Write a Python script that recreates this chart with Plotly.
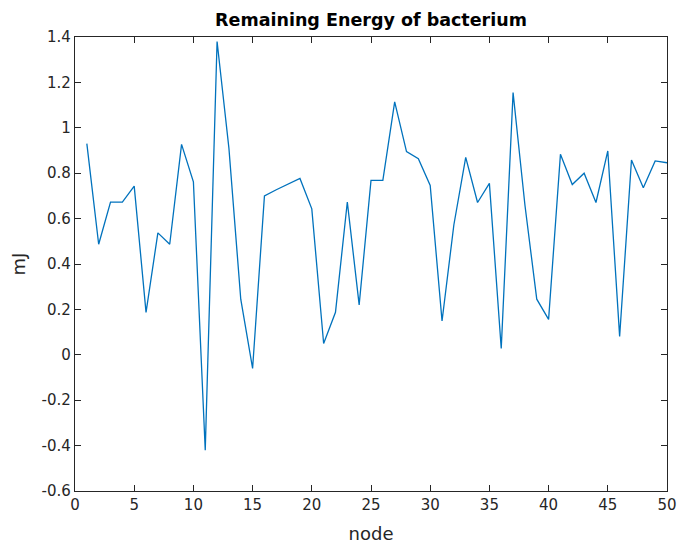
import plotly.graph_objects as go

nodes = list(range(1, 51))
energy = [0.93, 0.487, 0.673, 0.673, 0.743, 0.187, 0.537, 0.487, 0.927, 0.762,
          -0.42, 1.38, 0.91, 0.245, -0.06, 0.70, 0.727, 0.753, 0.777, 0.643,
          0.05, 0.187, 0.673, 0.22, 0.768, 0.768, 1.114, 0.895, 0.864, 0.746,
          0.149, 0.573, 0.87, 0.671, 0.755, 0.028, 1.155, 0.66, 0.245, 0.156,
          0.883, 0.75, 0.80, 0.671, 0.898, 0.081, 0.858, 0.736, 0.854, 0.846]

x_ticks = [0, 5, 10, 15, 20, 25, 30, 35, 40, 45, 50]
y_ticks = [-0.6, -0.4, -0.2, 0, 0.2, 0.4, 0.6, 0.8, 1, 1.2, 1.4]
y_ticktext = ["-0.6", "-0.4", "-0.2", "0", "0.2", "0.4", "0.6", "0.8", "1", "1.2", "1.4"]

FONT = "DejaVu Sans"

fig = go.Figure()
fig.add_trace(go.Scatter(x=nodes, y=energy, mode="lines",
                         line=dict(color="#0072BD", width=1.3)))

axis_common = dict(showline=True, linecolor="#262626", linewidth=1.4, mirror="ticks",
                   ticks="inside", ticklen=6, tickwidth=1.4, tickcolor="#262626",
                   showgrid=False, zeroline=False, automargin=False,
                   tickfont=dict(family=FONT, size=15, color="#262626"))

fig.update_layout(
    width=679, height=544,
    margin=dict(l=75, r=12, t=37, b=53),
    paper_bgcolor="white", plot_bgcolor="white",
    showlegend=False,
    title=dict(text="<b>Remaining Energy of bacterium</b>", x=0.5, xanchor="center",
               xref="paper", y=0.963, yanchor="middle",
               font=dict(family=FONT, size=17.5, color="black")),
    xaxis=dict(range=[0, 50], tickvals=x_ticks,
               title=dict(text="node", standoff=16,
                          font=dict(family=FONT, size=18, color="#262626")),
               **axis_common),
    yaxis=dict(range=[-0.6, 1.4], tickvals=y_ticks, ticktext=y_ticktext,
               title=dict(text="mJ", standoff=11,
                          font=dict(family=FONT, size=18, color="#262626")),
               **axis_common),
)

fig.write_html("out.html",
               config={"displayModeBar": False},
               post_script="document.body.style.margin='0';document.body.style.overflow='hidden';")
